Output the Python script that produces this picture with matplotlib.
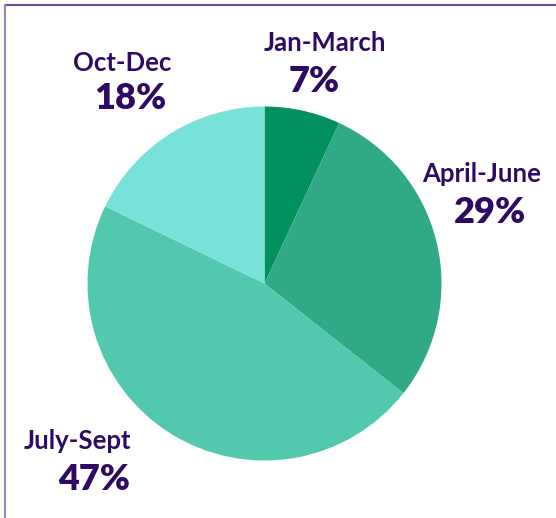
import matplotlib
matplotlib.use("Agg")
import matplotlib.pyplot as plt
from matplotlib.lines import Line2D

categories = ["Jan-March", "April-June", "July-Sept", "Oct-Dec"]
values = [7, 29, 47, 18]
pct_labels = ["7%", "29%", "47%", "18%"]
colors = ["#00915f", "#30aa86", "#52c8ae", "#78e2d8"]
# label positions in figure pixels (x center, y of name, y of percent)
label_pos = [(325, 43, 81), (482, 174, 212), (77, 441, 480), (122, 63, 98)]
pct_x = [314, 490, 94, 130]

W, H = 556, 518
fig = plt.figure(figsize=(W / 100, H / 100), dpi=100)
fig.patch.set_facecolor("white")

cx, cy, r = 264.5, 283.5, 177
ax = fig.add_axes([(cx - r) / W, (H - cy - r) / H, 2 * r / W, 2 * r / H])
ax.pie(values, colors=colors, startangle=90, counterclock=False,
       radius=1, wedgeprops=dict(linewidth=0))
ax.set_xlim(-1, 1)
ax.set_ylim(-1, 1)
ax.set_aspect("equal")
ax.axis("off")

# frame lines (top and left)
fig.add_artist(Line2D([4.5 / W, 1], [1 - 5 / H, 1 - 5 / H], color="#6b4f8c", lw=1.5, transform=fig.transFigure))
fig.add_artist(Line2D([4.5 / W, 4.5 / W], [0, 1 - 5 / H], color="#9b82b8", lw=1.5, transform=fig.transFigure))

txt_color = "#2e0a63"
for name, (x, yn, yp), px, pl in zip(categories, label_pos, pct_x, pct_labels):
    fig.text(x / W, 1 - yn / H, name, ha="center", va="center", fontsize=18.5,
             fontweight="bold", color=txt_color, family="Lato")
    fig.text(px / W, 1 - yp / H, pl, ha="center", va="center", fontsize=26,
             fontweight="heavy", color=txt_color, family="Lato")

fig.savefig("out.png", dpi=100, facecolor="white")
